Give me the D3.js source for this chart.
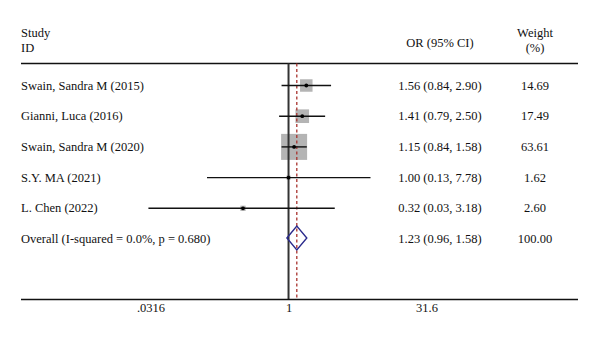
<!DOCTYPE html>
<html>
<head>
<meta charset="utf-8">
<script src="https://cdn.jsdelivr.net/npm/d3@7"></script>
<style>
  body { margin: 0; background: #fff; }
  svg text { font-family: "Liberation Serif", "DejaVu Serif", serif; font-size: 12.5px; fill: #111; }
</style>
</head>
<body>
<div id="chart"></div>
<script>
// study rows
var studies = ["Swain, Sandra M (2015)", "Gianni, Luca (2016)", "Swain, Sandra M (2020)", "S.Y. MA (2021)", "L. Chen (2022)"];
var or = [1.56, 1.41, 1.15, 1.00, 0.32];
var lower = [0.84, 0.79, 0.84, 0.13, 0.03];
var upper = [2.90, 2.50, 1.58, 7.78, 3.18];
var weight = ["14.69", "17.49", "63.61", "1.62", "2.60"];

// pooled estimate
var overallLabel = "Overall (I-squared = 0.0%, p = 0.680)";
var overall = [1.23, 0.96, 1.58];
var overallWeight = "100.00";

var tickValues = [0.0316, 1, 31.6];
var tickLabels = [".0316", "1", "31.6"];

var width = 600, height = 337;
var svg = d3.select("#chart").append("svg")
  .attr("width", width)
  .attr("height", height);

var x = d3.scaleLog().domain([0.0316, 31.6]).range([150.5, 426.5]);
var rows = studies.concat([overallLabel]);
var y = d3.scalePoint().domain(d3.range(rows.length)).range([85.5, 239]);
var boxSide = d3.scaleSqrt().domain([0, 63.61]).range([0, 26]);

var plotTop = 63.5, plotBottom = 299.5;
var orX = 440, wX = 535;

// header
svg.append("text").attr("x", 21).attr("y", 37).text("Study");
svg.append("text").attr("x", 21).attr("y", 52).text("ID");
svg.append("text").attr("x", orX).attr("y", 47).attr("text-anchor", "middle").text("OR (95% CI)");
svg.append("text").attr("x", wX).attr("y", 37).attr("text-anchor", "middle").text("Weight");
svg.append("text").attr("x", wX).attr("y", 52).attr("text-anchor", "middle").text("(%)");

svg.append("line")
  .attr("x1", 21).attr("x2", 578).attr("y1", plotTop).attr("y2", plotTop)
  .attr("stroke", "#111").attr("stroke-width", 1.5);

// boxes sized by weight
svg.selectAll("rect.box").data(studies).enter().append("rect")
  .attr("class", "box")
  .attr("x", function(d, i) { return x(or[i]) - boxSide(+weight[i]) / 2; })
  .attr("y", function(d, i) { return y(i) - boxSide(+weight[i]) / 2; })
  .attr("width", function(d, i) { return boxSide(+weight[i]); })
  .attr("height", function(d, i) { return boxSide(+weight[i]); })
  .attr("fill", "#b4b4b4");

// null line and pooled line
svg.append("line")
  .attr("x1", x(1)).attr("x2", x(1)).attr("y1", plotTop).attr("y2", plotBottom)
  .attr("stroke", "#333").attr("stroke-width", 2);
svg.append("line")
  .attr("x1", x(overall[0])).attr("x2", x(overall[0])).attr("y1", plotTop).attr("y2", plotBottom)
  .attr("stroke", "#a8322d").attr("stroke-width", 1.3).attr("stroke-dasharray", "3,2.5");

// confidence intervals
svg.selectAll("line.ci").data(studies).enter().append("line")
  .attr("class", "ci")
  .attr("x1", function(d, i) { return x(lower[i]); })
  .attr("x2", function(d, i) { return x(upper[i]); })
  .attr("y1", function(d, i) { return y(i); })
  .attr("y2", function(d, i) { return y(i); })
  .attr("stroke", "#111").attr("stroke-width", 1.4);

svg.selectAll("circle.pt").data(studies).enter().append("circle")
  .attr("class", "pt")
  .attr("cx", function(d, i) { return x(or[i]); })
  .attr("cy", function(d, i) { return y(i); })
  .attr("r", 1.9)
  .attr("fill", "#000");

// overall diamond
var oy = y(rows.length - 1) - 1;
svg.append("path")
  .attr("d", "M" + x(overall[1]) + "," + oy +
    "L" + x(overall[0]) + "," + (oy - 12) +
    "L" + x(overall[2]) + "," + oy +
    "L" + x(overall[0]) + "," + (oy + 12) + "Z")
  .attr("fill", "none").attr("stroke", "#2a2a8c").attr("stroke-width", 1.4);

// text columns
svg.selectAll("text.study").data(rows).enter().append("text")
  .attr("class", "study")
  .attr("x", 21).attr("y", function(d, i) { return y(i) + 4; })
  .text(function(d) { return d; });

var orText = studies.map(function(d, i) {
  return or[i].toFixed(2) + " (" + lower[i].toFixed(2) + ", " + upper[i].toFixed(2) + ")";
}).concat([overall[0].toFixed(2) + " (" + overall[1].toFixed(2) + ", " + overall[2].toFixed(2) + ")"]);

svg.selectAll("text.or").data(orText).enter().append("text")
  .attr("class", "or")
  .attr("x", orX).attr("y", function(d, i) { return y(i) + 4; })
  .attr("text-anchor", "middle")
  .text(function(d) { return d; });

svg.selectAll("text.wt").data(weight.concat([overallWeight])).enter().append("text")
  .attr("class", "wt")
  .attr("x", wX).attr("y", function(d, i) { return y(i) + 4; })
  .attr("text-anchor", "middle")
  .text(function(d) { return d; });

// bottom axis
svg.append("line")
  .attr("x1", 21).attr("x2", 578).attr("y1", plotBottom).attr("y2", plotBottom)
  .attr("stroke", "#111").attr("stroke-width", 1.5);

var axis = d3.axisBottom(x)
  .tickValues(tickValues)
  .tickSize(0)
  .tickPadding(4)
  .tickFormat(function(d, i) { return tickLabels[i]; });

var g = svg.append("g").attr("transform", "translate(0," + plotBottom + ")").call(axis);
g.select(".domain").remove();
g.selectAll("text").attr("fill", "#111").style("font-size", "12.5px")
  .style("font-family", '"Liberation Serif", "DejaVu Serif", serif');
</script>
</body>
</html>
